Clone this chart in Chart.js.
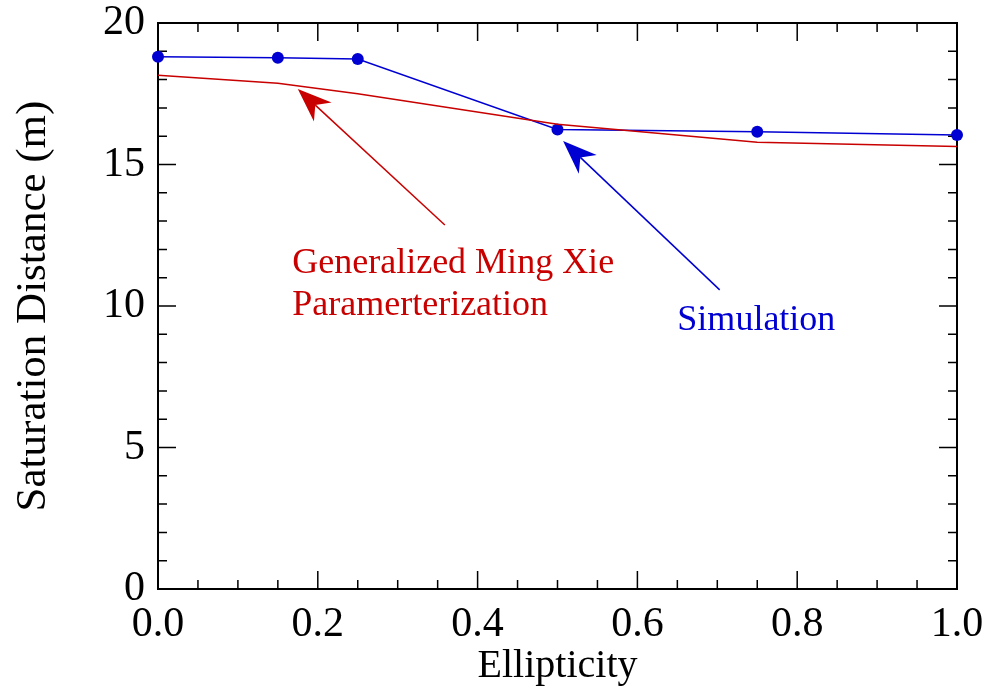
<!DOCTYPE html>
<html>
<head>
<meta charset="utf-8">
<script src="https://cdn.jsdelivr.net/npm/chart.js@4.4.0/dist/chart.umd.min.js"></script>
<style>
  html, body { margin: 0; padding: 0; background: #fff; }
  #wrap { width: 986px; height: 687px; }
</style>
</head>
<body>
<div id="wrap"><canvas id="myChart" width="986" height="687"></canvas></div>
<script>
// Data
const ellipticity = [0, 0.15, 0.25, 0.5, 0.75, 1.0];
const simulation = [18.81, 18.77, 18.73, 16.24, 16.16, 16.04];   // Saturation distance (m)
const mingXie = [18.15, 17.87, 17.5, 16.42, 15.79, 15.64];       // Generalized Ming Xie
const xTickLabels = ['0.0', '0.2', '0.4', '0.6', '0.8', '1.0'];
const yTickLabels = ['0', '5', '10', '15', '20'];

// Annotations (data units): arrows [tailX, tailY, tipX, tipY], text [x, y]
const redArrow = [0.359, 12.86, 0.175, 17.67];
const blueArrow = [0.703, 10.57, 0.507, 15.83];
const redLabel = ['Generalized Ming Xie', 'Paramerterization'];
const redLabelPos = [0.168, 11.18];
const blueLabel = 'Simulation';
const blueLabelPos = [0.65, 9.16];

const BLUE = '#0000d2';
const RED = '#c80000';
const FONT = "'Liberation Serif', 'Times New Roman', serif";

// Box frame with inward ticks on all four sides
const frameTicks = {
    id: 'frameTicks',
    beforeDatasetsDraw(chart) {
        const { ctx, chartArea: a, scales: { x, y } } = chart;
        ctx.save();
        ctx.strokeStyle = '#000';
        ctx.lineWidth = 1.5;
        ctx.beginPath();
        for (let i = 0; i <= 20; i++) {
            const px = x.getPixelForValue(i * 0.05);
            const len = i % 4 === 0 ? 18 : 9;
            ctx.moveTo(px, a.bottom); ctx.lineTo(px, a.bottom - len);
            ctx.moveTo(px, a.top); ctx.lineTo(px, a.top + len);
        }
        for (let i = 0; i <= 20; i++) {
            const py = y.getPixelForValue(i);
            const len = i % 5 === 0 ? 18 : 9;
            ctx.moveTo(a.left, py); ctx.lineTo(a.left + len, py);
            ctx.moveTo(a.right, py); ctx.lineTo(a.right - len, py);
        }
        ctx.stroke();
        ctx.lineWidth = 2;
        ctx.strokeRect(a.left, a.top, a.right - a.left, a.bottom - a.top);
        ctx.restore();
    }
};

function drawArrow(ctx, x, y, arr, color) {
    const x0 = x.getPixelForValue(arr[0]), y0 = y.getPixelForValue(arr[1]);
    const x1 = x.getPixelForValue(arr[2]), y1 = y.getPixelForValue(arr[3]);
    const len = Math.hypot(x1 - x0, y1 - y0);
    const dx = (x1 - x0) / len, dy = (y1 - y0) / len;
    const nx = -dy, ny = dx;
    const L = 34, W = 13;
    ctx.strokeStyle = color;
    ctx.fillStyle = color;
    ctx.lineWidth = 1.5;
    ctx.beginPath();
    ctx.moveTo(x0, y0);
    ctx.lineTo(x1 - dx * L * 0.7, y1 - dy * L * 0.7);
    ctx.stroke();
    ctx.beginPath();
    ctx.moveTo(x1, y1);
    ctx.lineTo(x1 - dx * L + nx * W, y1 - dy * L + ny * W);
    ctx.lineTo(x1 - dx * L * 0.7, y1 - dy * L * 0.7);
    ctx.lineTo(x1 - dx * L - nx * W, y1 - dy * L - ny * W);
    ctx.closePath();
    ctx.fill();
}

const annotations = {
    id: 'annotations',
    afterDatasetsDraw(chart) {
        const { ctx, scales: { x, y } } = chart;
        ctx.save();
        drawArrow(ctx, x, y, redArrow, RED);
        drawArrow(ctx, x, y, blueArrow, BLUE);
        ctx.font = '36px ' + FONT;
        ctx.textBaseline = 'alphabetic';
        ctx.textAlign = 'left';
        ctx.fillStyle = RED;
        const rx = x.getPixelForValue(redLabelPos[0]), ry = y.getPixelForValue(redLabelPos[1]);
        ctx.fillText(redLabel[0], rx, ry);
        ctx.fillText(redLabel[1], rx, ry + 42);
        ctx.fillStyle = BLUE;
        ctx.fillText(blueLabel, x.getPixelForValue(blueLabelPos[0]), y.getPixelForValue(blueLabelPos[1]));
        ctx.restore();
    }
};

const ctx = document.getElementById('myChart').getContext('2d');
new Chart(ctx, {
    type: 'scatter',
    data: {
        datasets: [
            {
                label: 'Generalized Ming Xie Paramerterization',
                data: ellipticity.map((e, i) => ({ x: e, y: mingXie[i] })),
                showLine: true,
                borderColor: RED,
                borderWidth: 1.5,
                pointRadius: 0,
                clip: false
            },
            {
                label: 'Simulation',
                data: ellipticity.map((e, i) => ({ x: e, y: simulation[i] })),
                showLine: true,
                borderColor: BLUE,
                backgroundColor: BLUE,
                borderWidth: 1.5,
                pointRadius: 6,
                pointBorderWidth: 0,
                pointBackgroundColor: BLUE,
                clip: false
            }
        ]
    },
    options: {
        responsive: false,
        animation: false,
        layout: { padding: { top: 23, right: 29, left: 0, bottom: 0 } },
        plugins: { legend: { display: false }, tooltip: { enabled: false } },
        scales: {
            x: {
                type: 'linear',
                min: 0, max: 1,
                border: { display: false },
                grid: { display: false, drawTicks: false },
                ticks: {
                    stepSize: 0.2,
                    padding: 11,
                    color: '#000',
                    font: { family: FONT, size: 42 },
                    maxRotation: 0,
                    callback: (v, i) => xTickLabels[i]
                },
                title: {
                    display: true,
                    text: 'Ellipticity',
                    color: '#000',
                    font: { family: FONT, size: 40, lineHeight: 1.05 },
                    padding: { top: 0, bottom: 0 }
                },
                afterFit: s => { s.height = 98; s.paddingLeft = 0; s.paddingRight = 0; }
            },
            y: {
                min: 0, max: 20,
                border: { display: false },
                grid: { display: false, drawTicks: false },
                ticks: {
                    stepSize: 5,
                    padding: 13,
                    color: '#000',
                    font: { family: FONT, size: 42 },
                    callback: (v, i) => yTickLabels[i]
                },
                title: {
                    display: true,
                    text: 'Saturation Distance (m)',
                    color: '#000',
                    font: { family: FONT, size: 43, lineHeight: 1.2 },
                    padding: { top: 8, bottom: 0 }
                },
                afterFit: s => { s.width = 158; s.paddingTop = 0; s.paddingBottom = 0; }
            }
        }
    },
    plugins: [frameTicks, annotations]
});
</script>
</body>
</html>
